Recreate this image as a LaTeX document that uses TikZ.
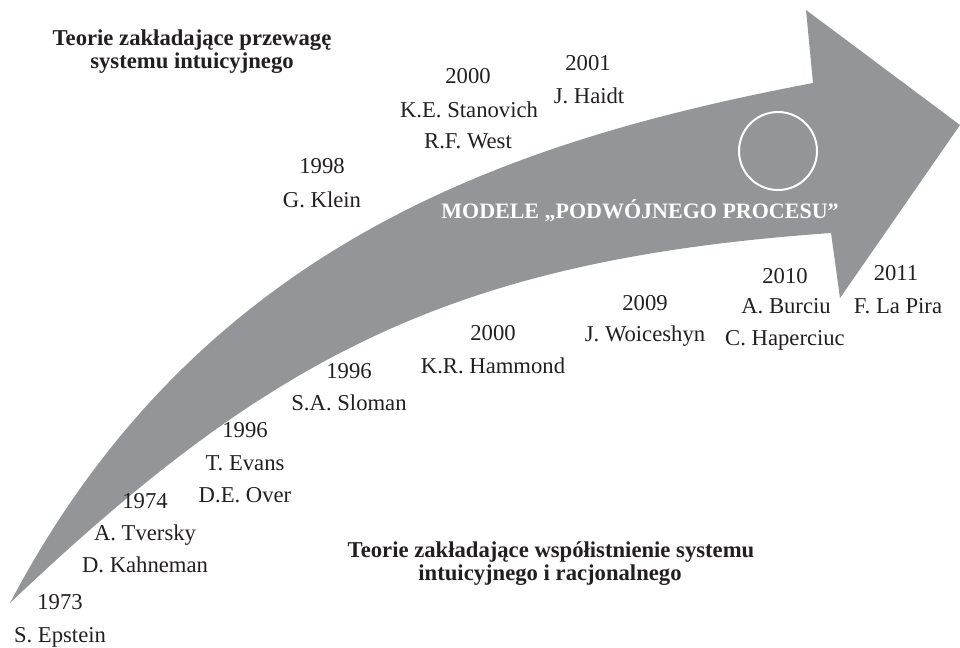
\documentclass[tikz,border=0pt]{standalone}
\usepackage{fontspec}
\setmainfont{Liberation Serif}
\definecolor{arrowgray}{RGB}{147,149,152}
\definecolor{ink}{RGB}{35,31,32}
\begin{document}
\begin{tikzpicture}[x=0.75pt,y=-0.75pt,
  lbl/.style={anchor=base,inner sep=0pt,text=ink,font=\fontsize{17}{20}\selectfont},
  ttl/.style={anchor=base,inner sep=0pt,text=ink,font=\fontsize{17}{20}\selectfont\bfseries},
  band/.style={fill=arrowgray,draw=none},
  ring/.style={circle,draw=white,line width=1.5pt,minimum size=58.5pt,inner sep=0pt}]
\useasboundingbox (0,0) rectangle (960,647);

% curved arrow
\fill[band] (10,603) .. controls (200,242) and (513,140) .. (813,83)
  -- (806,10) -- (960,125) -- (840,298) -- (831,233)
  .. controls (452,259.6) and (270,356) .. (10,603) -- cycle;
\node[ring] (ring) at (778,151) {};
\node[ttl,text=white,font=\fontsize{16.5}{20}\selectfont\bfseries] (mdl) at (640,218) {MODELE „PODWÓJNEGO PROCESU”};

% group headings
\node[ttl] (t1a) at (192,45) {Teorie zakładające przewagę};
\node[ttl] (t1b) at (192,68) {systemu intuicyjnego};
\node[ttl] (t2a) at (551,557) {Teorie zakładające współistnienie systemu};
\node[ttl] (t2b) at (550,580) {intuicyjnego i racjonalnego};

% timeline entries
\node[lbl] (e73y) at (60,609) {1973};
\node[lbl] (e73a) at (60,642) {S. Epstein};

\node[lbl] (e74y) at (145,508) {1974};
\node[lbl] (e74a) at (145,540) {A. Tversky};
\node[lbl] (e74b) at (145,572) {D. Kahneman};

\node[lbl] (e96y) at (245,437) {1996};
\node[lbl] (e96a) at (245,470) {T. Evans};
\node[lbl] (e96b) at (245,502) {D.E. Over};

\node[lbl] (s96y) at (349,378) {1996};
\node[lbl] (s96a) at (349,410) {S.A. Sloman};

\node[lbl] (h00y) at (493,340) {2000};
\node[lbl] (h00a) at (493,373) {K.R. Hammond};

\node[lbl] (w09y) at (645,310) {2009};
\node[lbl] (w09a) at (645,341) {J. Woiceshyn};

\node[lbl] (b10y) at (785,283) {2010};
\node[lbl] (b10a) at (786,313) {A. Burciu};
\node[lbl] (b10b) at (785,345) {C. Haperciuc};

\node[lbl] (p11y) at (896,280) {2011};
\node[lbl] (p11a) at (898,313) {F. La Pira};

\node[lbl] (k98y) at (322,173) {1998};
\node[lbl] (k98a) at (322,207) {G. Klein};

\node[lbl] (s00y) at (468,83) {2000};
\node[lbl] (s00a) at (469,117) {K.E. Stanovich};
\node[lbl] (s00b) at (468,148) {R.F. West};

\node[lbl] (j01y) at (588,70) {2001};
\node[lbl] (j01a) at (589,103) {J. Haidt};
\end{tikzpicture}
\end{document}
